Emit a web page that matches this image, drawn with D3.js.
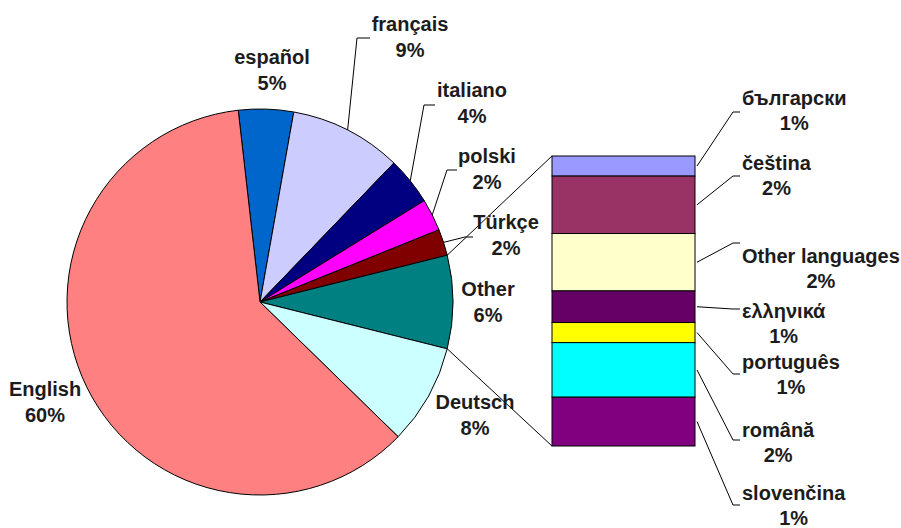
<!DOCTYPE html>
<html>
<head>
<meta charset="utf-8">
<script src="https://cdn.jsdelivr.net/npm/d3@7/dist/d3.min.js"></script>
<style>
  html, body { margin: 0; padding: 0; background: #fff; }
  svg { display: block; }
  .lbl { font-family: "Liberation Sans", Arial, sans-serif; font-weight: bold; font-size: 20px; fill: #1c1c1c; }
</style>
</head>
<body>
<div id="chart"></div>
<script>
// Languages - bar of pie
const pieNames = ["español", "français", "italiano", "polski", "Türkçe", "Other", "Deutsch", "English"];
const pieValues = [4.6, 9.4, 4.0, 2.7, 2.2, 7.8, 8.4, 60.9];
const pieLabels = ["5%", "9%", "4%", "2%", "2%", "6%", "8%", "60%"];
const pieColors = ["#0066cc", "#ccccff", "#000080", "#ff00ff", "#800000", "#008080", "#ccffff", "#ff8080"];

const barNames = ["български", "čeština", "Other languages", "ελληνικά", "português", "română", "slovenčina"];
const barValues = [0.7, 2.0, 2.0, 1.1, 0.7, 1.9, 1.7];
const barLabels = ["1%", "2%", "2%", "1%", "1%", "2%", "1%"];
const barColors = ["#9999ff", "#993366", "#ffffcc", "#660066", "#ffff00", "#00ffff", "#800080"];

(function() {
  const width = 901, height = 528;
  const cx = 260, cy = 302, r = 193;
  const otherIdx = pieNames.indexOf("Other");

  // label placement (center x, first baseline y) and leader elbows
  const pieLabelPos = [
    { x: 272, y: 64 }, { x: 410, y: 31, leader: [357, 38, 370] },
    { x: 472, y: 97, leader: [424, 105, 435] }, { x: 487, y: 163, leader: [447, 170, 457] },
    { x: 506, y: 229, leader: [465, 237, 473] }, { x: 488, y: 296 },
    { x: 475, y: 409 }, { x: 45, y: 396 }
  ];
  const barLabelX = 742;
  const barLabelPos = [
    { y: 105, ly: 112 }, { y: 170, ly: 176 }, { y: 263, ly: 243 }, { y: 318, ly: 309 },
    { y: 369, ly: 374 }, { y: 437, ly: 440 }, { y: 500, ly: 505 }
  ];

  const svg = d3.select('#chart').append('svg')
    .attr('width', width)
    .attr('height', height);

  // rotate so that the "Other" slice is centred on the right side
  const total = d3.sum(pieValues);
  const before = d3.sum(pieValues.slice(0, otherIdx)) + pieValues[otherIdx] / 2;
  const offset = Math.PI / 2 - before / total * 2 * Math.PI;

  const pie = d3.pie().sort(null).startAngle(offset).endAngle(offset + 2 * Math.PI);
  const arcs = pie(pieValues);
  const arc = d3.arc().innerRadius(0).outerRadius(r);

  const g = svg.append('g').attr('transform', `translate(${cx},${cy})`);
  g.selectAll('path')
    .data(arcs)
    .join('path')
    .attr('d', arc)
    .attr('fill', (d, i) => pieColors[i])
    .attr('stroke', '#000')
    .attr('stroke-width', 1);

  const onArc = a => [cx + r * Math.sin(a), cy - r * Math.cos(a)];

  // stacked bar for the "Other" group
  const bx0 = 552, bx1 = 695;
  const y = d3.scaleLinear().domain([0, d3.sum(barValues)]).range([156, 446]);
  const cum = d3.cumsum(barValues);
  const segs = barValues.map((v, i) => ({ y0: y(cum[i] - v), y1: y(cum[i]) }));

  svg.selectAll('rect.seg')
    .data(segs)
    .join('rect')
    .attr('class', 'seg')
    .attr('x', bx0)
    .attr('y', d => d.y0)
    .attr('width', bx1 - bx0)
    .attr('height', d => d.y1 - d.y0)
    .attr('fill', (d, i) => barColors[i])
    .attr('stroke', '#000')
    .attr('stroke-width', 1);

  // connector lines pie -> bar
  const oa = arcs[otherIdx];
  const p0 = onArc(oa.startAngle), p1 = onArc(oa.endAngle);
  svg.append('line').attr('x1', p0[0]).attr('y1', p0[1]).attr('x2', bx0).attr('y2', y(0))
    .attr('stroke', '#000');
  svg.append('line').attr('x1', p1[0]).attr('y1', p1[1]).attr('x2', bx0).attr('y2', y(d3.sum(barValues)))
    .attr('stroke', '#000');

  // pie labels
  arcs.forEach((a, i) => {
    const pos = pieLabelPos[i];
    const t = svg.append('text').attr('class', 'lbl').attr('text-anchor', 'middle');
    t.append('tspan').attr('x', pos.x).attr('y', pos.y).text(pieNames[i]);
    t.append('tspan').attr('x', pos.x).attr('y', pos.y + 26).text(pieLabels[i]);
    if (pos.leader) {
      const s = onArc((a.startAngle + a.endAngle) / 2);
      const [ex, ey, tx] = pos.leader;
      svg.append('polyline')
        .attr('points', [s, [ex, ey], [tx, ey]].map(p => p.join(',')).join(' '))
        .attr('fill', 'none').attr('stroke', '#000');
    }
  });

  // bar labels: block starts at barLabelX, lines centred on the name
  barNames.forEach((name, i) => {
    const pos = barLabelPos[i];
    const t = svg.append('text').attr('class', 'lbl')
      .attr('x', barLabelX).attr('y', pos.y).text(name);
    const w = t.node().getComputedTextLength();
    svg.append('text').attr('class', 'lbl').attr('text-anchor', 'middle')
      .attr('x', barLabelX + w / 2).attr('y', pos.y + 25).text(barLabels[i]);
    const sy = (segs[i].y0 + segs[i].y1) / 2;
    svg.append('polyline')
      .attr('points', `${bx1 + 2},${sy} 733,${pos.ly} 740,${pos.ly}`)
      .attr('fill', 'none').attr('stroke', '#000');
  });
})();
</script>
</body>
</html>
